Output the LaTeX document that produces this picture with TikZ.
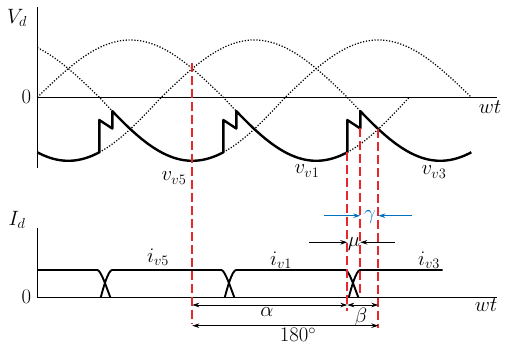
\documentclass[tikz,border=0pt]{standalone}
\usepackage{amsmath,amssymb}
\usepackage{xcolor}
\usepackage{tikz}
\usetikzlibrary{arrows.meta,positioning,calc}
\definecolor{cutred}{RGB}{232,38,44}
\definecolor{gamblue}{RGB}{0,112,192}

\begin{document}
\begin{tikzpicture}[
    x=1pt,y=-1pt,
    declare function={px(\t)=37.3+1.03333*\t; wave(\t)=97.3-60.4*sin(\t)+3.1*abs(sin(\t));},
    axis/.style={line width=1.5pt},
    phase/.style={line width=1.25pt,dash pattern=on 1.2pt off 1.7pt},
    vd/.style={line width=2.4pt,line join=round},
    cur/.style={line width=1.9pt},
    cutline/.style={draw=cutred,line width=1.7pt,dash pattern=on 9pt off 4pt},
    lbl/.style={inner sep=0pt,font=\fontsize{20}{23}\selectfont},
    dim/.style={line width=0.8pt},
    >={Stealth[length=7pt,width=4.5pt]}
  ]
    \useasboundingbox (0,0) rectangle (506,347);
    \coordinate (o1) at (37.3,97.3);
    \coordinate (top1) at (37.3,7);
    \coordinate (bot1) at (37.3,168);
    \coordinate (end1) at (496.5,97.3);
    \coordinate (o2) at (37.3,297.3);
    \coordinate (top2) at (37.3,227.7);
    \coordinate (end2) at (496.7,297.3);
    \draw[axis] (top1) -- (bot1);
    \draw[axis] (o1) -- (end1);
    \draw[axis] (top2) -- (o2) -- (end2);
    \node[lbl] (vdlab) at (17,18) {$V_d$};
    \node[lbl,left=6pt of o1] (zero1) {$0$};
    \node[lbl] (wt1) at (490,107) {$wt$};
    \node[lbl] (idlab) at (17,220) {$I_d$};
    \node[lbl,left=6pt of o2] (zero2) {$0$};
    \node[lbl] (wt2) at (486,305) {$wt$};
    \draw[phase] plot[domain=0:192.6,samples=90,variable=\t] ({px(\t)},{wave(\t)});
    \draw[phase] plot[domain=300:360,samples=30,variable=\t] ({px(\t)},{wave(\t)});
    \draw[phase] plot[domain=0:72.6,samples=40,variable=\t] ({px(\t)},{wave(\t+120)});
    \draw[phase] plot[domain=180:420,samples=110,variable=\t] ({px(\t)},{wave(\t+120)});
    \draw[phase] plot[domain=60:312.6,samples=110,variable=\t] ({px(\t)},{wave(\t-120)});
    \draw[vd] plot[domain=0:60,samples=30,variable=\t] ({px(\t)},{wave(\t-120)})
      -- (99.3,120) -- (112.3,128.5)
      -- plot[domain=72.6:180,samples=50,variable=\t] ({px(\t)},{wave(\t+120)})
      -- (223.3,120) -- (236.3,128.5)
      -- plot[domain=192.6:300,samples=50,variable=\t] ({px(\t)},{wave(\t)})
      -- (347.3,120) -- (360.3,128.5)
      -- plot[domain=312.6:420,samples=50,variable=\t] ({px(\t)},{wave(\t-120)});
    \node[lbl] (vv5) at (174,178) {$v_{v5}$};
    \node[lbl] (vv1) at (307,171) {$v_{v1}$};
    \node[lbl] (vv3) at (434,172) {$v_{v3}$};
    \draw[cur] (37.3,270) -- (97.3,270) .. controls (101,270) and (107,289) .. (110.3,297.3);
    \draw[cur] (100.8,297.3) .. controls (103,289) and (108,270) .. (112.3,270) -- (221.3,270) .. controls (225,270) and (231,289) .. (234.3,297.3);
    \draw[cur] (224.8,297.3) .. controls (227,289) and (232,270) .. (236.3,270) -- (345.3,270) .. controls (349,270) and (355,289) .. (358.3,297.3);
    \draw[cur] (348.8,297.3) .. controls (351,289) and (356,270) .. (360.3,270) -- (442.7,270);
    \node[lbl] (iv5) at (158,257) {$i_{v5}$};
    \node[lbl] (iv1) at (281,260) {$i_{v1}$};
    \node[lbl] (iv3) at (429,260) {$i_{v3}$};
    \coordinate (c1t) at (192.3,63);
    \coordinate (c1b) at (192.3,324);
    \coordinate (c2t) at (347.3,152.3);
    \coordinate (c2b) at (347.3,311);
    \coordinate (c3t) at (360.3,128.5);
    \coordinate (c3b) at (360.3,297.3);
    \coordinate (c4t) at (378.3,129);
    \coordinate (c4b) at (378.3,328);
    \draw[cutline] (c1t) -- (c1b);
    \draw[cutline] (c2t) -- (c2b);
    \draw[cutline] (c3t) -- (c3b);
    \draw[cutline] (c4t) -- (c4b);
    \coordinate (gl) at (324,215.7);
    \coordinate (glh) at (360.3,215.7);
    \coordinate (gr) at (411.7,215.7);
    \coordinate (grh) at (378.3,215.7);
    \draw[dim,->,gamblue] (gl) -- (glh);
    \draw[dim,->,gamblue] (gr) -- (grh);
    \node[lbl,text=gamblue] (gam) at (370,217) {$\gamma$};
    \coordinate (ml) at (309.3,242.3);
    \coordinate (mlh) at (347.3,242.3);
    \coordinate (mr) at (395,242.3);
    \coordinate (mrh) at (360.3,242.3);
    \draw[dim,->] (ml) -- (mlh);
    \draw[dim,->] (mr) -- (mrh);
    \node[lbl] (mu) at (354,244) {$\mu$};
    \coordinate (al) at (192.3,305);
    \coordinate (ar) at (347.3,305);
    \coordinate (br) at (378.3,305);
    \coordinate (hl) at (192.3,325.7);
    \coordinate (hr) at (378.3,325.7);
    \draw[dim,<->] (al) -- (ar);
    \draw[dim,<->] (ar) -- (br);
    \draw[dim,<->] (hl) -- (hr);
    \node[lbl] (alpha) at (267,312) {$\alpha$};
    \node[lbl] (beta) at (361,317) {$\beta$};
    \node[lbl] (half) at (298,335) {$180^{\circ}$};
  \end{tikzpicture}
\end{document}
